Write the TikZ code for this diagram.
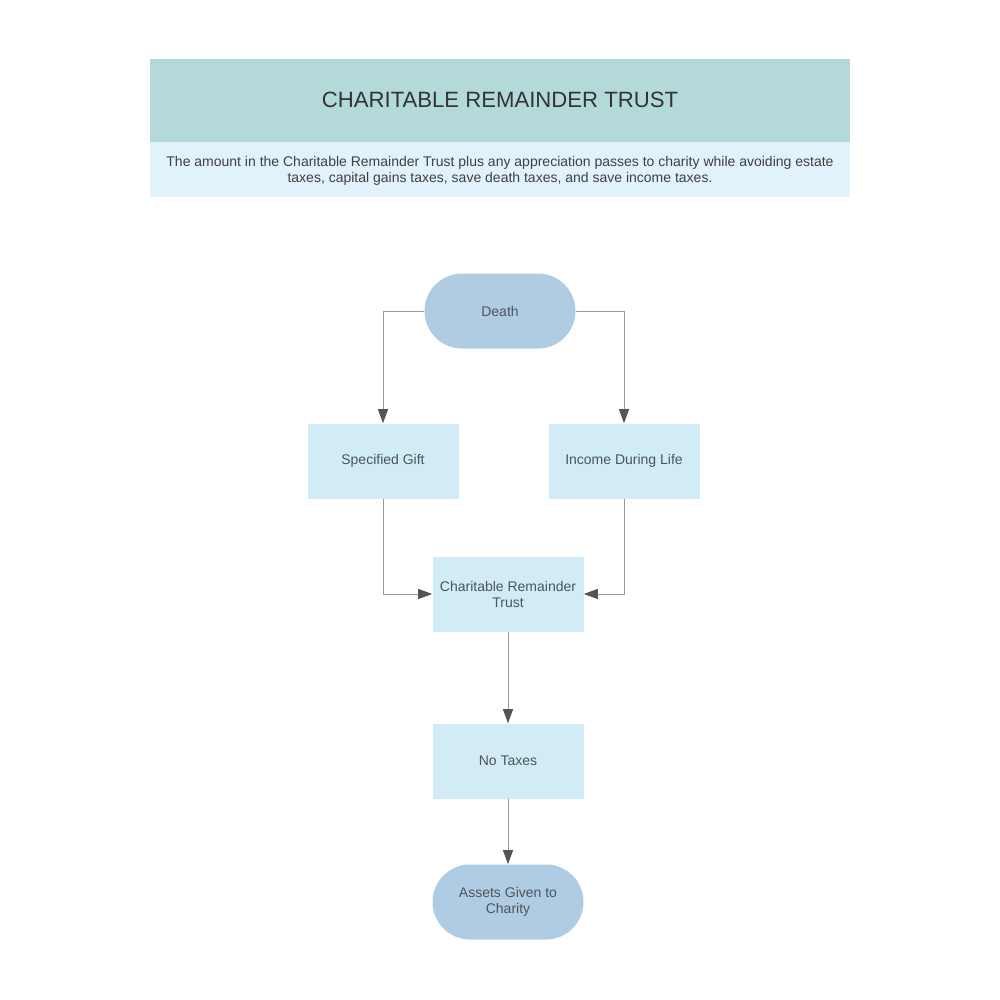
\documentclass[tikz,border=0pt]{standalone}
\usepackage{fontspec}
\setmainfont{Liberation Sans}
\usetikzlibrary{arrows.meta,shapes.misc}
\definecolor{titlebg}{HTML}{B4D9D9}
\definecolor{subbg}{HTML}{E1F2FA}
\definecolor{termfill}{HTML}{B0CCE2}
\definecolor{boxfill}{HTML}{D1EBF7}
\definecolor{txt}{HTML}{4A5560}
\definecolor{linec}{HTML}{9A9A9A}
\definecolor{headc}{HTML}{555555}
\tikzset{
  px/.style={x=0.75pt,y=-0.75pt},
  term/.style={rounded rectangle, fill=termfill, minimum width=113.25pt, minimum height=56.25pt, text=txt, font=\fontsize{10.5}{12}\selectfont, align=center, inner sep=0pt},
  procbox/.style={rectangle, fill=boxfill, minimum width=113.25pt, minimum height=56.25pt, text=txt, font=\fontsize{10.5}{12}\selectfont, align=center, inner sep=0pt},
  conn/.style={draw=linec, line width=0.75pt, -{Triangle[length=10.5pt,width=7.5pt,fill=headc,color=headc]}},
}
\begin{document}
\begin{tikzpicture}[px]
\useasboundingbox (0,0) rectangle (1000,1000);
\fill[titlebg] (150,59) rectangle (850,142);
\fill[subbg] (150,142) rectangle (850,197);
\node[text=black!80, font=\fontsize{16.6}{19}\selectfont] (title) at (500,100) {CHARITABLE REMAINDER TRUST};
\node[text=black!75, font=\fontsize{10.5}{12}\selectfont, align=center] (sub) at (500,171) {The amount in the Charitable Remainder Trust plus any appreciation passes to charity while avoiding estate\\taxes, capital gains taxes, save death taxes, and save income taxes.};
\node[term] (death) at (500,311) {Death};
\node[procbox] (gift) at (383,461) {Specified Gift};
\node[procbox] (income) at (624,461) {Income During Life};
\node[procbox] (crt) at (508,594) {Charitable Remainder\\Trust};
\node[procbox] (notax) at (508,761) {No Taxes};
\node[term] (assets) at (508,902) {Assets Given to\\Charity};
\draw[conn] (death.west) -| (gift.north);
\draw[conn] (death.east) -| (income.north);
\draw[conn] (gift.south) |- (crt.west);
\draw[conn] (income.south) |- (crt.east);
\draw[conn] (crt.south) -- (notax.north);
\draw[conn] (notax.south) -- (assets.north);
\end{tikzpicture}
\end{document}
